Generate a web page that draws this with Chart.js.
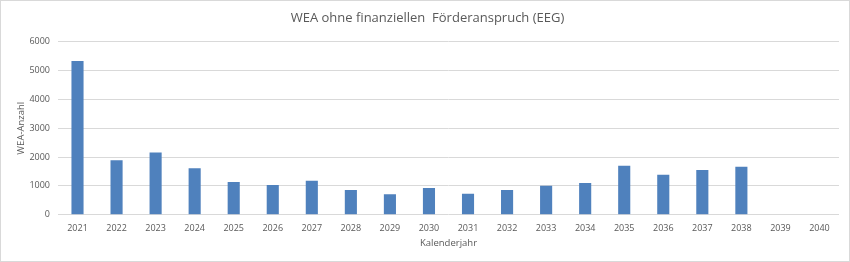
<!DOCTYPE html>
<html lang="de">
<head>
<meta charset="UTF-8">
<title>WEA ohne finanziellen Förderanspruch (EEG)</title>
<script src="https://cdn.jsdelivr.net/npm/chart.js"></script>
<style>
  body { margin: 0; background: #fff; }
  #wrap { width: 850px; height: 262px; box-sizing: border-box; border: 1px solid #d9d9d9; }
</style>
</head>
<body>
<div id="wrap"><canvas id="weaChart" width="848" height="260"></canvas></div>
<script>
    // Daten
    const jahre = ['2021','2022','2023','2024','2025','2026','2027','2028','2029','2030',
                   '2031','2032','2033','2034','2035','2036','2037','2038','2039','2040'];
    const weaAnzahl = [5330, 1890, 2155, 1610, 1135, 1030, 1180, 860, 710, 930,
                       730, 860, 1010, 1100, 1700, 1390, 1555, 1665, 0, 0];
    const yTicks = [0, 1000, 2000, 3000, 4000, 5000, 6000];

    const grau = '#595959';
    Chart.defaults.font.family = '"Open Sans", "Liberation Sans", sans-serif';
    Chart.defaults.color = grau;

    new Chart(document.getElementById('weaChart').getContext('2d'), {
        type: 'bar',
        data: {
            labels: jahre,
            datasets: [{
                label: 'WEA-Anzahl',
                data: weaAnzahl,
                backgroundColor: '#4f81bd',
                borderWidth: 0,
                barPercentage: 0.62,
                categoryPercentage: 0.5
            }]
        },
        options: {
            responsive: false,
            animation: false,
            layout: { padding: { left: 15, right: 10, top: 6, bottom: 12 } },
            plugins: {
                legend: { display: false },
                tooltip: { enabled: false },
                title: {
                    display: true,
                    text: 'WEA ohne finanziellen  Förderanspruch (EEG)',
                    font: { size: 13, weight: 'normal' },
                    color: grau,
                    padding: { top: 3, bottom: 16 }
                }
            },
            scales: {
                x: {
                    grid: { display: false, drawTicks: false },
                    border: { display: false },
                    ticks: { font: { size: 9 }, padding: 8, maxRotation: 0 },
                    title: { display: true, text: 'Kalenderjahr', font: { size: 9.5 }, padding: { top: -4, bottom: 0 } }
                },
                y: {
                    min: 0,
                    max: 6000,
                    afterBuildTicks: (scale) => { scale.ticks = yTicks.map(v => ({ value: v })); },
                    grid: { color: '#d9d9d9', drawTicks: false },
                    border: { display: false },
                    ticks: { font: { size: 9 }, padding: 8, callback: (v) => String(v) },
                    title: { display: true, text: 'WEA-Anzahl', font: { size: 9.5 }, padding: { top: 0, bottom: -6 } }
                }
            }
        }
    });
</script>
</body>
</html>
